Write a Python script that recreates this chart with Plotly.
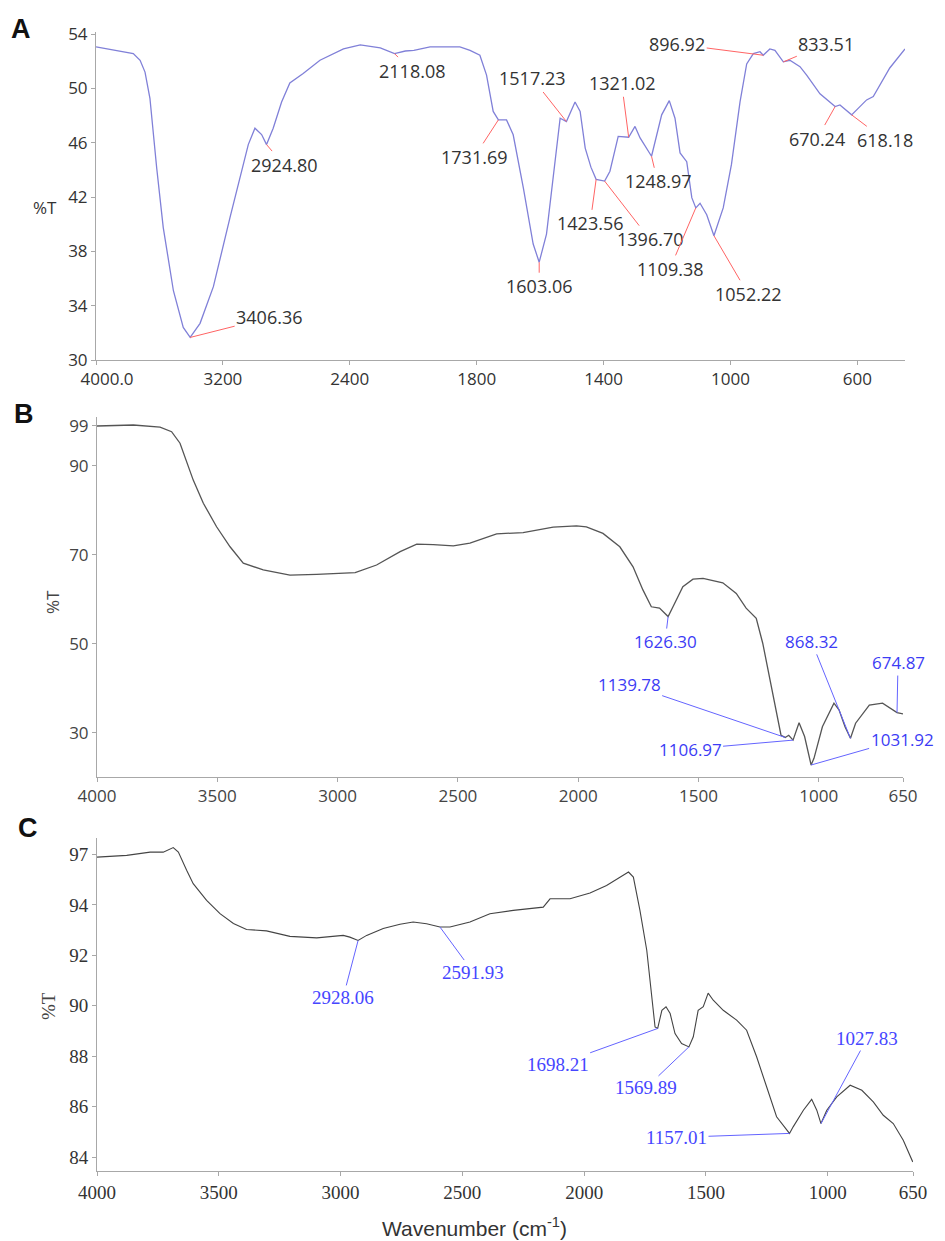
import plotly.graph_objects as go

# page has an 8px body margin; figure fills the rest of the 945x1241 window
PAD = 8
W, H = 945 - 2 * PAD, 1241 - PAD

# ---------------- Panel A data ----------------
A_wn = [4000, 3868, 3765, 3722, 3691, 3660, 3617, 3576, 3512, 3450, 3406.36, 3344, 3260, 3155, 3092, 3040,
        2998, 2956, 2924.80, 2883, 2830, 2778, 2694, 2588, 2440, 2334, 2208, 2118.08, 2050, 1998, 1947, 1853,
        1821, 1790, 1769, 1748, 1731.69, 1706, 1685, 1653, 1622, 1603.06, 1580, 1558, 1537, 1517.23, 1490,
        1474, 1458, 1440, 1423.56, 1396.70, 1380, 1354, 1321.02, 1301, 1285, 1248.97, 1217, 1193, 1175, 1159,
        1138, 1122, 1109.38, 1096, 1075, 1052.22, 1023, 997, 970, 949, 928, 907, 896.92, 876, 860, 833.51,
        813, 781, 760, 718, 670.24, 655, 618.18, 571, 550, 498, 450]
A_T = [53.05, 52.8, 52.56, 52.07, 51.2, 49.27, 44.1, 39.75, 35.1, 32.4, 31.66, 32.7, 35.4, 40.5, 43.4, 45.86,
       47.07, 46.6, 45.86, 47.07, 49.0, 50.4, 51.1, 52.07, 52.9, 53.2, 52.98, 52.56, 52.75, 52.8, 53.05, 53.05,
       52.8, 52.44, 50.98, 48.3, 47.68, 47.68, 46.58, 42.68, 38.54, 37.2, 39.27, 43.66, 47.8, 47.56, 49.0,
       48.3, 45.6, 44.2, 43.3, 43.17, 43.9, 46.46, 46.4, 47.2, 46.35, 45.0, 48.05, 49.1, 47.8, 45.25,
       44.6, 41.95, 41.2, 41.54, 40.7, 39.15, 41.2, 44.4, 49.0, 51.8, 52.56, 52.7, 52.44, 52.9, 52.8, 51.95,
       52.07, 51.6, 50.98, 49.6, 48.66, 48.78, 48.05, 49.15, 49.4, 51.5, 52.9]
A_peaks = [3406.36, 2924.80, 2118.08, 1731.69, 1603.06, 1517.23, 1423.56, 1396.70, 1321.02, 1248.97,
           1109.38, 1052.22, 896.92, 833.51, 670.24, 618.18]
A_peak_T = [31.66, 45.86, 52.56, 47.68, 37.2, 47.56, 43.3, 43.17, 46.4, 45.0, 41.2, 39.15, 52.44, 51.95, 48.66, 48.05]
A_peak_labels = ["3406.36", "2924.80", "2118.08", "1731.69", "1603.06", "1517.23", "1423.56", "1396.70",
                 "1321.02", "1248.97", "1109.38", "1052.22", "896.92", "833.51", "670.24", "618.18"]
A_xticks = [4000, 3200, 2400, 1800, 1400, 1000, 600]
A_xticktext = ["\u00a0\u00a0\u00a0\u00a0\u00a04000.0", "3200", "2400", "1800", "1400", "1000", "600"]
A_yticks = [30, 34, 38, 42, 46, 50, 54]

# ---------------- Panel B data ----------------
B_wn = [4000, 3849, 3738, 3690, 3655, 3628, 3600, 3558, 3503, 3447, 3392, 3309, 3198, 3087, 2927, 2838, 2740,
        2671, 2602, 2519, 2450, 2339, 2229, 2104, 2007, 1966, 1897, 1827, 1772, 1731, 1696, 1662, 1626.30,
        1606, 1565, 1523, 1481, 1399, 1343, 1302, 1260, 1233, 1205, 1177, 1157, 1139.78, 1125, 1106.97,
        1082, 1059, 1031.92, 1020, 985, 937, 916, 891, 868.32, 847, 790, 735, 674.87, 650]
B_T = [98.97, 99.2, 98.7, 97.7, 95.1, 91.0, 86.8, 81.6, 76.3, 71.8, 68.1, 66.6, 65.4, 65.6, 66.0, 67.7, 70.7,
       72.4, 72.3, 72.0, 72.6, 74.7, 75.0, 76.2, 76.5, 76.3, 74.8, 71.8, 67.3, 62.1, 58.3, 58.0, 56.1,
       58.3, 62.8, 64.5, 64.7, 63.7, 61.3, 58.0, 55.7, 50.1, 42.6, 34.3, 29.4, 28.9, 29.4, 28.3,
       32.2, 29.1, 22.7, 24.2, 31.3, 36.6, 35.1, 31.3, 28.7, 32.1, 36.2, 36.6, 34.5, 34.2]
B_peaks = [1626.30, 868.32, 674.87, 1139.78, 1106.97, 1031.92]
B_peak_T = [56.1, 28.7, 34.5, 28.9, 28.3, 22.7]
B_peak_labels = ["1626.30", "868.32", "674.87", "1139.78", "1106.97", "1031.92"]
B_xticks = [4000, 3500, 3000, 2500, 2000, 1500, 1000, 650]
B_yticks = [30, 50, 70, 90, 99]

# ---------------- Panel C data ----------------
C_wn = [4000, 3878, 3782, 3728, 3687, 3666, 3632, 3605, 3550, 3495, 3440, 3386, 3304, 3208, 3098, 2989, 2962,
        2928.06, 2893, 2825, 2756, 2702, 2647, 2591.93, 2551, 2469, 2387, 2291, 2168, 2140, 2058, 1976, 1908,
        1853, 1818, 1798, 1771, 1743, 1723, 1709, 1698.21, 1681, 1664, 1647, 1627, 1600, 1569.89, 1552, 1532,
        1511, 1491, 1470, 1429, 1374, 1333, 1292, 1251, 1210, 1157.01, 1142, 1100, 1066, 1045, 1027.83, 1004,
        963, 908, 860, 813, 772, 731, 690, 651]
C_T = [95.89, 95.96, 96.09, 96.09, 96.27, 96.09, 95.37, 94.84, 94.18, 93.65, 93.26, 93.02, 92.97, 92.75, 92.69,
       92.79, 92.72, 92.59, 92.79, 93.06, 93.23, 93.32, 93.25, 93.12, 93.12, 93.32, 93.65, 93.78, 93.91, 94.24,
       94.24, 94.47, 94.77, 95.1, 95.3, 95.1, 93.78, 92.2, 90.35, 89.16, 89.1, 89.82, 89.96, 89.69, 88.9, 88.5,
       88.37, 88.77, 89.82, 89.96, 90.5, 90.22, 89.82, 89.43, 89.03, 87.98, 86.79, 85.6, 84.94, 85.2, 85.86,
       86.29, 85.86, 85.33, 85.86, 86.39, 86.85, 86.65, 86.19, 85.66, 85.33, 84.67, 83.81]
C_peaks = [2928.06, 2591.93, 1698.21, 1569.89, 1157.01, 1027.83]
C_peak_T = [92.59, 93.12, 89.1, 88.37, 84.94, 85.33]
C_peak_labels = ["2928.06", "2591.93", "1698.21", "1569.89", "1157.01", "1027.83"]
C_xticks = [4000, 3500, 3000, 2500, 2000, 1500, 1000, 650]
C_yticks = [84, 86, 88, 90, 92, 94, 96]
C_yticktext = ["84", "86", "88", "90", "92", "94", "97"]


# split-scale wavenumber axis for panel A (4000-2000 compressed by 2)
def fA(w):
    return w if w <= 2000 else 2000 + (w - 2000) / 2.0


# label offsets (pixels) from peak to label centre
A_off = [(79, -20), (17, 20), (17, 17), (-24, 37), (0, 24), (-34, -43), (-6, 44), (45, 58), (-7, -54),
         (6, 25), (-26, 61), (34, 58), (-86, -11), (43, -18), (-18, 32), (33, 25)]
B_off = [(-3, 25), (-39, -97), (1, -50), (-156, -53), (-103, 9), (91, -26)]
C_off = [(-15, 57), (33, 45), (-100, 36), (-43, 41), (-113, 4), (46, -85)]

fig = go.Figure()
fig.add_trace(go.Scatter(x=[fA(w) for w in A_wn], y=A_T, mode="lines",
                         line=dict(color="#8080d8", width=1.3), xaxis="x", yaxis="y", showlegend=False))
fig.add_trace(go.Scatter(x=B_wn, y=B_T, mode="lines", line=dict(color="#555555", width=1.3),
                         xaxis="x2", yaxis="y2", showlegend=False))
fig.add_trace(go.Scatter(x=C_wn, y=C_T, mode="lines", line=dict(color="#444444", width=1.1),
                         xaxis="x3", yaxis="y3", showlegend=False))

ann = []
sansA = dict(family="Open Sans", size=18, color="#333333")
for w, t, lab, (ox, oy) in zip(A_peaks, A_peak_T, A_peak_labels, A_off):
    ann.append(dict(x=fA(w), y=t, xref="x", yref="y", text=lab, showarrow=True, arrowhead=0,
                    arrowwidth=1, arrowcolor="#ff6464", ax=ox, ay=oy, font=sansA))
blueB = dict(family="Open Sans", size=17, color="#3c3cf5")
for w, t, lab, (ox, oy) in zip(B_peaks, B_peak_T, B_peak_labels, B_off):
    ann.append(dict(x=w, y=t, xref="x2", yref="y2", text=lab, showarrow=True, arrowhead=0,
                    arrowwidth=1, arrowcolor="#6464ff", ax=ox, ay=oy, font=blueB))
blueC = dict(family="Liberation Serif", size=19, color="#4646ff")
for w, t, lab, (ox, oy) in zip(C_peaks, C_peak_T, C_peak_labels, C_off):
    ann.append(dict(x=w, y=t, xref="x3", yref="y3", text=lab, showarrow=True, arrowhead=0,
                    arrowwidth=1, arrowcolor="#6464ff", ax=ox, ay=oy, font=blueC))


def px(xp):
    return (xp - PAD) / W


def py(yp):
    return 1 - (yp - PAD) / H


def paper_text(x, y, text, font, angle=0):
    return dict(x=px(x), y=py(y), xref="paper", yref="paper", text=text, showarrow=False,
                xanchor="center", yanchor="middle", textangle=angle, font=font)


# panel letters, %T labels, x title
for letter, (lx, ly) in zip(["A", "B", "C"], [(21, 29), (24, 414), (28, 828)]):
    ann.append(paper_text(lx, ly, "<b>%s</b>" % letter, dict(family="Liberation Sans", size=27, color="#111111")))
ann.append(paper_text(45, 207, "%T", dict(family="Open Sans", size=17, color="#333333")))
ann.append(paper_text(52, 602, "%T", dict(family="Open Sans", size=17, color="#444444"), -90))
ann.append(paper_text(48, 1006, "%T", dict(family="Liberation Serif", size=19, color="#444444"), -90))
ann.append(paper_text(474, 1227, "Wavenumber (cm<sup>-1</sup>)",
                      dict(family="Liberation Sans", size=21, color="#333333")))

axcommon = dict(showgrid=False, zeroline=False, showline=True, linecolor="#a8a8a8", linewidth=1,
                ticks="outside", ticklen=4, tickcolor="#a8a8a8", mirror=False, automargin=False)

fig.update_layout(
    width=W, height=H, autosize=False, margin=dict(l=0, r=0, t=0, b=0, autoexpand=False),
    paper_bgcolor="white", plot_bgcolor="white",
    xaxis=dict(axcommon, domain=[px(96), px(905)], range=[fA(4000), fA(450)], anchor="y",
               tickmode="array", tickvals=[fA(w) for w in A_xticks], ticktext=A_xticktext,
               tickfont=dict(family="Open Sans", size=17, color="#333333")),
    yaxis=dict(axcommon, domain=[py(360), py(32)], range=[30, 54.15], anchor="x",
               tickmode="array", tickvals=A_yticks,
               tickfont=dict(family="Open Sans", size=17, color="#333333")),
    xaxis2=dict(axcommon, domain=[px(97), px(903)], range=[4000, 650], anchor="y2",
                tickmode="array", tickvals=B_xticks,
                tickfont=dict(family="Open Sans", size=17, color="#444444")),
    yaxis2=dict(axcommon, domain=[py(777), py(417)], range=[20, 101], anchor="x2",
                tickmode="array", tickvals=B_yticks,
                tickfont=dict(family="Open Sans", size=17, color="#444444")),
    xaxis3=dict(axcommon, domain=[px(97), px(913)], range=[4000, 650], anchor="y3",
                tickmode="array", tickvals=C_xticks,
                tickfont=dict(family="Liberation Serif", size=19, color="#333333")),
    yaxis3=dict(axcommon, domain=[py(1171), py(838)], range=[83.45, 96.65], anchor="x3",
                tickmode="array", tickvals=C_yticks, ticktext=C_yticktext,
                tickfont=dict(family="Liberation Serif", size=19, color="#333333")),
    annotations=ann,
)

fig.write_html("out.html")
